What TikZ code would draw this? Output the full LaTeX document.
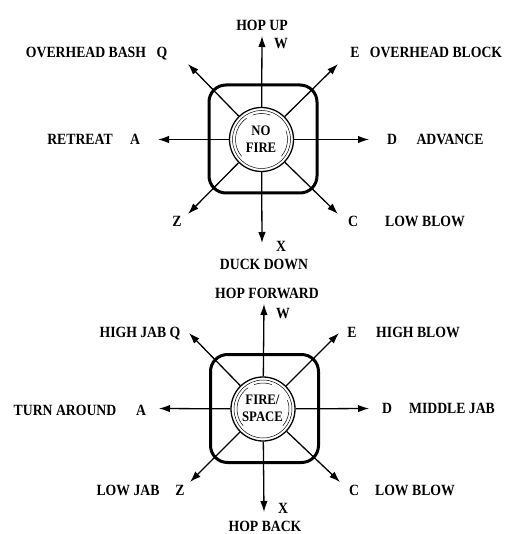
\documentclass[tikz,border=0pt]{standalone}
\usepackage{fontspec}
\setmainfont{Liberation Serif}
\newfontfamily\lblfont{Liberation Serif}[FakeStretch=0.88]
\usetikzlibrary{arrows.meta}
\begin{document}
\begin{tikzpicture}[x=1pt,y=-1pt,
  lbl/.style={font=\lblfont\fontsize{15.6}{16}\selectfont\bfseries, inner sep=0pt, text height=10.3pt, text depth=0pt, anchor=center},
  ctrtxt/.style={font=\lblfont\fontsize{14.5}{16.5}\selectfont\bfseries, align=center, inner sep=0pt},
  arm/.style={line width=1.3pt, -{Latex[length=11pt,width=7.5pt]}},
  pad/.style={draw, line width=3pt, rounded corners=17pt, minimum size=108pt, inner sep=0pt},
  btn/.style={circle, draw, line width=1.3pt, fill=white, minimum size=64pt, inner sep=0pt},
  ring/.style={line width=0.5pt},
]
\useasboundingbox[fill=white] (0,0) rectangle (509,534);

% ---------- top pad ----------
\node[pad] (tpad) at (263,139) {};
\node[btn] (tbtn) at (261.5,139.5) {};
\draw[ring] (tbtn.center) circle (29);
\draw[ring] (tbtn.center) ++(140:26) arc[start angle=140, end angle=235, radius=26];
\draw[ring] (tbtn.center) ++(-20:26) arc[start angle=-20, end angle=40, radius=26];
\draw[ring] (tbtn.center) ++(250:26) arc[start angle=250, end angle=290, radius=26];
\node[ctrtxt] (tctr) at (261,139) {NO\\FIRE};

\coordinate (tN) at (262,36);
\coordinate (tS) at (262,243);
\coordinate (tW) at (158,139.5);
\coordinate (tE) at (369,139.5);
\coordinate (tNW) at (188,64);
\coordinate (tNE) at (338,64);
\coordinate (tSW) at (188,214);
\coordinate (tSE) at (338,214);
\foreach \d in {N,S,W,E,NW,NE,SW,SE} \draw[arm] (tbtn) -- (t\d);

\node[lbl] (thopup) at (262,25) {HOP UP};
\node[lbl] (tw) at (281,43) {W};
\node[lbl] (tbash) at (86,52) {OVERHEAD BASH};
\node[lbl] (tq) at (162,52) {Q};
\node[lbl] (te) at (355,52) {E};
\node[lbl] (tblock) at (436,52) {OVERHEAD BLOCK};
\node[lbl] (tretreat) at (80,139) {RETREAT};
\node[lbl] (ta) at (135,139) {A};
\node[lbl] (td) at (392,139) {D};
\node[lbl] (tadv) at (450,139) {ADVANCE};
\node[lbl] (tz) at (177,221) {Z};
\node[lbl] (tc) at (353,221) {C};
\node[lbl] (tlow) at (425,221) {LOW BLOW};
\node[lbl] (tx) at (281,246) {X};
\node[lbl] (tduck) at (264,264) {DUCK DOWN};

% ---------- bottom pad ----------
\node[pad] (bpad) at (264.5,408.5) {};
\node[btn] (bbtn) at (263,409) {};
\draw[ring] (bbtn.center) circle (29);
\draw[ring] (bbtn.center) ++(140:26) arc[start angle=140, end angle=235, radius=26];
\draw[ring] (bbtn.center) ++(-20:26) arc[start angle=-20, end angle=40, radius=26];
\draw[ring] (bbtn.center) ++(250:26) arc[start angle=250, end angle=290, radius=26];
\node[ctrtxt] (bctr) at (262.5,408.5) {FIRE/\\SPACE};

\coordinate (bN) at (264,304);
\coordinate (bS) at (264,512);
\coordinate (bW) at (159,408.5);
\coordinate (bE) at (369,408.5);
\coordinate (bNW) at (189,333);
\coordinate (bNE) at (339,333);
\coordinate (bSW) at (190,482);
\coordinate (bSE) at (340,482);
\foreach \d in {N,S,W,E,NW,NE,SW,SE} \draw[arm] (bbtn) -- (b\d);

\node[lbl] (bhopf) at (267,293) {HOP FORWARD};
\node[lbl] (bw) at (283,313) {W};
\node[lbl] (bhighjab) at (140,332) {HIGH JAB Q};
\node[lbl] (be) at (352,332) {E};
\node[lbl] (bhighblow) at (418,332) {HIGH BLOW};
\node[lbl] (bturn) at (65,410) {TURN AROUND};
\node[lbl] (ba) at (141,410) {A};
\node[lbl] (bd) at (387,408) {D};
\node[lbl] (bmid) at (452,408) {MIDDLE JAB};
\node[lbl] (blowjab) at (128,490) {LOW JAB};
\node[lbl] (bz) at (180,490) {Z};
\node[lbl] (bc) at (354,490) {C};
\node[lbl] (blowblow) at (415,490) {LOW BLOW};
\node[lbl] (bx) at (283,508) {X};
\node[lbl] (bhopback) at (265,526) {HOP BACK};
\end{tikzpicture}
\end{document}
